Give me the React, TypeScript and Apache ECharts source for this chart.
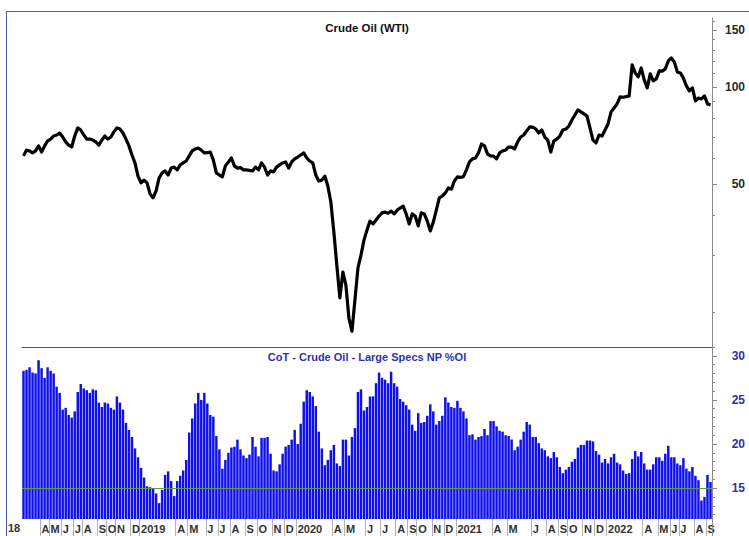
import React, { useEffect, useRef } from 'react';
import * as echarts from 'echarts';

// Weekly WTI crude oil price (USD)
const wtiPrice: number[] = [
  61.1, 63.7, 63.3, 62.4, 63.3, 65.6, 62.8, 65.6, 68.0, 68.9,
  70.4, 70.9, 71.9, 69.9, 67.5, 66.0, 65.1, 70.4, 74.6, 73.5,
  70.9, 68.9, 68.9, 68.4, 67.5, 66.0, 68.4, 70.4, 68.9, 69.9,
  72.5, 74.6, 74.0, 71.9, 68.9, 65.6, 61.5, 58.1, 52.9, 50.4,
  51.4, 50.4, 46.6, 45.3, 47.6, 52.2, 54.1, 54.9, 53.3, 56.0,
  56.4, 55.3, 57.3, 58.1, 58.9, 61.1, 63.3, 64.2, 64.6, 63.7,
  62.4, 62.5, 62.8, 59.3, 54.1, 53.3, 52.6, 56.9, 58.5, 60.2,
  56.9, 56.0, 56.2, 55.3, 55.3, 55.1, 54.9, 56.4, 55.3, 58.1,
  56.4, 53.3, 54.9, 54.5, 56.4, 57.3, 58.1, 58.5, 56.0, 58.5,
  59.8, 60.6, 61.5, 62.4, 60.2, 58.9, 58.1, 53.3, 51.1, 51.4,
  52.9, 49.3, 44.0, 35.5, 27.9, 22.2, 26.7, 24.3, 19.2, 17.5,
  21.9, 27.5, 30.1, 33.5, 36.0, 38.4, 37.6, 38.7, 39.8, 40.7,
  40.9, 40.6, 41.2, 40.4, 41.5, 42.1, 42.7, 40.4, 37.6, 40.4,
  39.8, 37.1, 40.7, 40.4, 38.4, 35.8, 38.1, 41.5, 45.3, 45.9,
  46.9, 48.6, 48.2, 51.1, 52.6, 52.4, 52.7, 55.3, 58.5, 59.8,
  60.2, 62.4, 66.5, 65.6, 61.9, 61.1, 61.0, 59.8, 62.4, 63.3,
  63.7, 65.1, 65.0, 64.2, 67.5, 69.9, 70.9, 73.0, 75.1, 75.0,
  74.0, 71.9, 73.5, 69.9, 68.4, 62.8, 68.0, 68.9, 70.4, 73.5,
  74.0, 75.6, 78.9, 81.8, 84.8, 83.6, 82.4, 81.2, 74.6, 68.4,
  67.0, 70.9, 70.4, 73.5, 76.7, 83.6, 86.0, 88.5, 93.0, 92.8,
  93.2, 93.7, 116.9, 110.4, 107.3, 114.4, 105.0, 99.2, 109.6, 104.3,
  105.8, 112.0, 111.8, 113.6, 120.2, 122.8, 119.4, 111.2, 110.4, 106.5,
  100.6, 97.1, 99.2, 90.4, 92.3, 91.7, 93.7, 88.5, 87.9,
];

// CoT - Large speculators net position as % of open interest
const cotLargeSpecsPctOI: number[] = [
  28.3, 28.4, 28.7, 28.1, 28.0, 29.5, 28.6, 27.5, 28.7, 28.3,
  28.0, 26.5, 25.8, 23.9, 24.1, 23.3, 23.0, 23.7, 25.9, 26.8,
  26.3, 26.1, 25.8, 26.2, 26.1, 24.7, 24.2, 24.7, 24.6, 24.1,
  23.9, 25.4, 24.7, 23.9, 22.4, 21.6, 20.8, 19.5, 18.5, 17.3,
  16.2, 15.2, 15.1, 15.0, 14.4, 13.3, 14.8, 16.5, 16.9, 15.8,
  14.1, 15.8, 16.4, 17.0, 18.2, 21.3, 22.9, 24.6, 25.8, 25.0,
  25.8, 24.6, 23.3, 23.1, 20.9, 19.4, 17.2, 18.2, 19.0, 19.6,
  19.7, 20.5, 19.4, 18.7, 18.4, 18.8, 20.8, 19.7, 18.6, 20.7,
  20.7, 20.8, 18.9, 17.0, 16.9, 17.7, 18.9, 19.7, 19.9, 20.5,
  21.6, 20.0, 22.3, 24.8, 26.1, 25.9, 25.4, 24.3, 21.4, 19.5,
  17.6, 18.2, 19.3, 19.9, 17.8, 17.5, 20.5, 20.5, 18.7, 20.8,
  21.8, 25.9, 26.2, 23.8, 24.2, 25.4, 25.4, 26.9, 28.1, 27.5,
  27.3, 26.9, 28.2, 26.9, 26.5, 25.1, 24.8, 24.4, 23.9, 22.2,
  21.5, 23.5, 22.4, 22.5, 23.2, 24.5, 23.7, 22.2, 22.6, 23.2,
  25.3, 24.7, 24.2, 24.1, 24.9, 24.1, 23.7, 22.9, 21.0, 21.1,
  20.5, 20.8, 20.9, 21.7, 21.0, 22.6, 22.6, 22.0, 21.5, 21.4,
  21.0, 20.9, 20.5, 19.3, 19.7, 20.5, 21.4, 22.5, 22.2, 20.8,
  20.8, 20.1, 19.5, 19.3, 18.6, 18.4, 19.1, 18.5, 17.4, 16.7,
  17.1, 17.4, 18.0, 18.3, 19.6, 19.9, 19.9, 20.4, 20.4, 20.3,
  19.2, 18.8, 17.9, 18.3, 17.8, 18.5, 18.9, 17.9, 17.7, 17.0,
  16.6, 16.7, 18.3, 19.2, 18.6, 19.1, 17.8, 17.1, 17.1, 17.7,
  18.5, 18.5, 18.1, 18.9, 19.8, 18.5, 18.5, 17.8, 17.6, 18.4,
  17.2, 16.9, 17.4, 16.4, 15.9, 13.6, 14.0, 16.5, 15.7,
];

// Month tick labels: week index where the month starts, and its label
const monthStartWeek: number[] = [
  6, 9, 13, 17, 20, 25, 28, 31, 36, 39,
  51, 55, 61, 65, 69, 74, 78, 83, 87, 91,
  103, 107, 114, 119, 124, 128, 131, 136, 140, 144,
  156, 161, 169, 174, 178, 181, 186, 190, 194,
  206, 211, 215, 218, 223, 227,
];
const monthLabel: string[] = [
  'A', 'M', 'J', 'J', 'A', 'S', 'O', 'N', 'D', '2019',
  'A', 'M', 'J', 'J', 'A', 'S', 'O', 'N', 'D', '2020',
  'A', 'M', 'J', 'J', 'A', 'S', 'O', 'N', 'D', '2021',
  'A', 'M', 'J', 'A', 'S', 'O', 'N', 'D', '2022',
  'A', 'M', 'J', 'J', 'A', 'S',
];
const leadingYearLabel = '18';

const priceTickLabels: number[] = [50, 100, 150];
const priceMinorTicks: number[] = [20, 30, 40, 60, 70, 80, 90, 110, 120, 130, 140, 160];
const cotTickLabels: number[] = [15, 20, 25, 30];
const cotMinorTicks: number[] = [12, 13, 14, 16, 17, 18, 19, 21, 22, 23, 24, 26, 27, 28, 29, 31];
const cotReferenceLevel = 15;

const weeks: string[] = wtiPrice.map((_, i) => `W${i}`);
const labelByWeek = new Map<string, string>(monthStartWeek.map((w, k) => [weeks[w], monthLabel[k]]));

const FONT = '"Liberation Sans", Arial, sans-serif';
const AXIS_GREY = '#8a8a8a';
const COT_BLUE = '#3030b0';

function buildOption(): any {
  return {
    animation: false,
    backgroundColor: '#ffffff',
    title: [
      {
        text: 'Crude Oil (WTI)', left: 362, top: 17, textAlign: 'center',
        textStyle: { fontFamily: FONT, fontSize: 11.5, fontWeight: 'bold', color: '#111' },
      },
      {
        text: 'CoT - Crude Oil - Large Specs NP %OI', left: 362, top: 346, textAlign: 'center',
        textStyle: { fontFamily: FONT, fontSize: 11, fontWeight: 'bold', color: COT_BLUE },
      },
    ],
    grid: [
      { left: 22, right: 37, top: 18, bottom: 189 },
      { left: 22, right: 37, top: 347, bottom: 17 },
    ],
    xAxis: [
      {
        type: 'category', gridIndex: 0, data: weeks, boundaryGap: true,
        axisLine: { show: true, lineStyle: { color: '#555', width: 1 } },
        axisTick: { show: false }, axisLabel: { show: false }, splitLine: { show: false },
      },
      {
        type: 'category', gridIndex: 1, data: weeks, boundaryGap: true,
        axisLine: { show: false },
        axisTick: {
          show: true, length: 17, inside: false,
          interval: (_i: number, v: string) => labelByWeek.has(v),
          lineStyle: { color: '#b4b4b4', width: 1 },
        },
        axisLabel: {
          show: true, margin: 4, align: 'left',
          interval: (_i: number, v: string) => labelByWeek.has(v),
          formatter: (v: string) => labelByWeek.get(v) ?? '',
          fontFamily: FONT, fontSize: 11, fontWeight: 'bold', color: '#333',
        },
        splitLine: { show: false },
      },
    ],
    yAxis: [
      {
        type: 'log', logBase: 10, gridIndex: 0, position: 'right', min: 15.64, max: 163.3,
        axisLine: { show: true, lineStyle: { color: AXIS_GREY } },
        axisTick: { show: true, length: 5, customValues: priceTickLabels, lineStyle: { color: AXIS_GREY } },
        axisLabel: {
          show: true, customValues: priceTickLabels, margin: 33, align: 'right',
          formatter: (v: number) => String(Math.round(v)),
          fontFamily: FONT, fontSize: 12, fontWeight: 'bold', color: '#2a2a2a',
        },
        splitLine: { show: false }, minorTick: { show: false },
      },
      {
        type: 'log', logBase: 10, gridIndex: 0, position: 'right', min: 15.64, max: 163.3,
        axisLine: { show: false },
        axisTick: { show: true, length: 3, customValues: priceMinorTicks, lineStyle: { color: AXIS_GREY } },
        axisLabel: { show: false }, splitLine: { show: false },
      },
      {
        type: 'value', gridIndex: 1, position: 'right', min: 11.5, max: 31,
        axisLine: { show: true, lineStyle: { color: AXIS_GREY } },
        axisTick: { show: true, length: 5, customValues: cotTickLabels, lineStyle: { color: AXIS_GREY } },
        axisLabel: {
          show: true, customValues: cotTickLabels, margin: 33, align: 'right',
          fontFamily: FONT, fontSize: 12, fontWeight: 'bold', color: COT_BLUE,
        },
        splitLine: { show: false },
      },
      {
        type: 'value', gridIndex: 1, position: 'right', min: 11.5, max: 31,
        axisLine: { show: false },
        axisTick: { show: true, length: 3, customValues: cotMinorTicks, lineStyle: { color: AXIS_GREY } },
        axisLabel: { show: false }, splitLine: { show: false },
      },
    ],
    series: [
      {
        name: 'Crude Oil (WTI)', type: 'line', xAxisIndex: 0, yAxisIndex: 0,
        data: wtiPrice, showSymbol: false, symbol: 'none', smooth: false,
        lineStyle: { color: '#000', width: 3.2, join: 'round' }, itemStyle: { color: '#000' },
      },
      {
        name: 'CoT Large Specs NP %OI', type: 'bar', xAxisIndex: 1, yAxisIndex: 2,
        data: cotLargeSpecsPctOI, barCategoryGap: '18%', clip: true,
        itemStyle: { color: '#0f0fec', borderWidth: 0 },
        markLine: {
          silent: true, symbol: 'none', label: { show: false },
          lineStyle: { color: '#5e9a4e', width: 1, type: 'solid' },
          data: [{ yAxis: cotReferenceLevel }],
        },
      },
    ],
    graphic: [
      {
        type: 'text', x: 8, y: 528, z: 10,
        style: { text: leadingYearLabel, align: 'left', verticalAlign: 'middle', font: `bold 11px ${FONT}`, fill: '#333' },
      },
      {
        type: 'line', z: 10, shape: { x1: 712.5, y1: 519, x2: 712.5, y2: 536 },
        style: { stroke: AXIS_GREY, lineWidth: 1 },
      },
      {
        type: 'rect', z: 21, shape: { x: 6.5, y: 11.5, width: 780, height: 560 },
        style: { fill: 'none', stroke: '#4a5bab', lineWidth: 1 },
      },
    ],
  };
}

export default function App() {
  const ref = useRef<HTMLDivElement>(null);
  useEffect(() => {
    if (!ref.current) return;
    const chart = echarts.init(ref.current, null, { renderer: 'svg' });
    chart.setOption(buildOption());
    return () => chart.dispose();
  }, []);
  return (
    <div
      ref={ref}
      style={{ position: 'fixed', left: 0, top: 0, width: 749, height: 536, background: '#fff' }}
    />
  );
}
